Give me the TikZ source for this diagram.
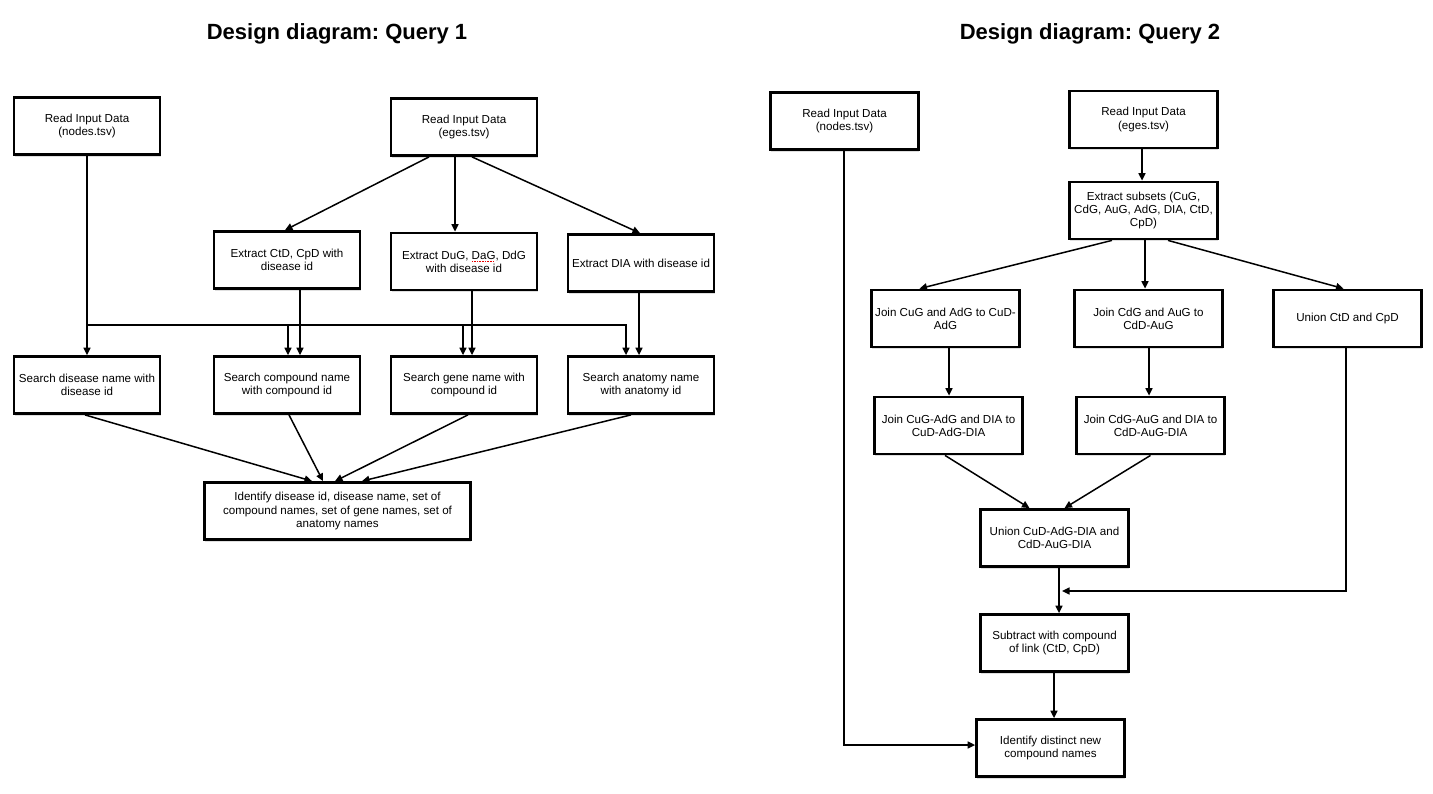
\documentclass[tikz,border=0pt]{standalone}
\usepackage{fontspec}
\setmainfont{Liberation Sans}
\usetikzlibrary{arrows.meta,shadows}
\newcommand\squig[1]{\setbox0\hbox{#1}\rlap{\color{red!90!black}\raisebox{-2.4pt}{\leaders\hbox to 1.6pt{\hss\rule{0.8pt}{0.8pt}\hss}\hskip\wd0}}#1}
\tikzset{
  box/.style={draw=black, line width=2.8pt, fill=white, minimum width=146pt, minimum height=57pt,
    align=center, inner sep=2pt, font=\fontsize{11.6}{13.2}\selectfont\frenchspacing,
    drop shadow={shadow xshift=0.8pt, shadow yshift=-2pt, opacity=0.25}},
  arr/.style={line width=1.5pt, -{Triangle[length=7.5pt,width=7pt]}},
  ln/.style={line width=1.5pt},
  title/.style={font=\fontsize{22}{26}\selectfont\bfseries\frenchspacing}
}
\begin{document}
\begin{tikzpicture}[x=1pt,y=-1pt]
\useasboundingbox[fill=white] (0,0) rectangle (1433,793);
% titles
\node[title] (t1) at (337,34) {Design diagram: Query 1};
\node[title] (t2) at (1090,34) {Design diagram: Query 2};
% ---------------- Query 1
\node[box] (A1) at (87,126) {Read Input Data\\(nodes.tsv)};
\node[box] (A2) at (464,127) {Read Input Data\\(eges.tsv)};
\node[box] (B1) at (287,260) {Extract CtD, CpD with\\disease id};
\node[box] (B2) at (464,261.5) {Extract DuG, \squig{DaG}, DdG\\with disease id};
\node[box] (B3) at (641,263) {Extract DIA with disease id};
\node[box] (C1) at (87,385) {Search disease name with\\disease id};
\node[box] (C2) at (287,385) {Search compound name\\with compound id};
\node[box] (C3) at (464,385) {Search gene name with\\compound id};
\node[box] (C4) at (641,385) {Search anatomy name\\with anatomy id};
\node[box, minimum width=266pt] (D) at (337.5,511) {Identify disease id, disease name, set of\\compound names, set of gene names, set of\\anatomy names};

\draw[arr] ([xshift=-35]A2.south) -- ([xshift=-2]B1.north);
\draw[arr] ([xshift=-9]A2.south) -- ([xshift=-9]B2.north);
\draw[arr] ([xshift=8]A2.south) -- ([xshift=-1]B3.north);

\coordinate (bus) at (87,325);
\draw[arr] (A1.south) -- (C1.north);
\draw[ln] (bus) -- (626,325);
\draw[arr] (bus) -| ([xshift=1]C2.north);
\draw[arr] (bus) -| ([xshift=-1]C3.north);
\draw[arr] (bus) -| ([xshift=-15]C4.north);

\draw[arr] ([xshift=13]B1.south) -- ([xshift=13]C2.north);
\draw[arr] ([xshift=8]B2.south) -- ([xshift=8]C3.north);
\draw[arr] ([xshift=-2]B3.south) -- ([xshift=-2]C4.north);

\draw[arr] ([xshift=-2]C1.south) -- ([xshift=-25.5]D.north);
\draw[arr] ([xshift=2]C2.south) -- ([xshift=-14.5]D.north);
\draw[arr] ([xshift=4]C3.south) -- ([xshift=-2.5]D.north);
\draw[arr] ([xshift=-10]C4.south) -- ([xshift=24.5]D.north);

% ---------------- Query 2
\node[box, minimum width=148pt] (E1) at (844.5,121) {Read Input Data\\(nodes.tsv)};
\node[box, minimum width=148pt] (E2) at (1143.5,119.5) {Read Input Data\\(eges.tsv)};
\node[box, minimum width=148pt] (F) at (1143.5,210.5) {Extract subsets (CuG,\\CdG, AuG, AdG, DIA, CtD,\\CpD)};
\node[box, minimum width=148pt] (G1) at (945.5,318.5) {Join CuG and AdG to CuD-\\AdG};
\node[box, minimum width=148pt] (G2) at (1148.5,318.5) {Join CdG and AuG to\\CdD-AuG};
\node[box, minimum width=148pt] (G3) at (1347.5,318.5) {Union CtD and CpD};
\node[box, minimum width=148pt] (H1) at (948.5,425.5) {Join CuG-AdG and DIA to\\CuD-AdG-DIA};
\node[box, minimum width=148pt] (H2) at (1150.5,425.5) {Join CdG-AuG and DIA to\\CdD-AuG-DIA};
\node[box, minimum width=148pt] (I) at (1054.5,538) {Union CuD-AdG-DIA and\\CdD-AuG-DIA};
\node[box, minimum width=148pt] (J) at (1054.5,643) {Subtract with compound\\of link (CtD, CpD)};
\node[box, minimum width=148pt] (K) at (1050.5,748) {Identify distinct new\\compound names};

\draw[arr] ([xshift=-1.5]E2.south) -- ([xshift=-1.5]F.north);
\draw[arr] ([xshift=-31.5]F.south) -- ([xshift=-26]G1.north);
\draw[arr] ([xshift=1.5]F.south) -- ([xshift=-3.5]G2.north);
\draw[arr] ([xshift=24.5]F.south) -- ([xshift=-4]G3.north);
\draw[arr] ([xshift=3.5]G1.south) -- ([xshift=0.5]H1.north);
\draw[arr] ([xshift=0.5]G2.south) -- ([xshift=-1.5]H2.north);
\draw[arr] ([xshift=-3.5]H1.south) -- ([xshift=-25]I.north);
\draw[arr] (H2.south) -- ([xshift=10]I.north);
\draw[arr] ([xshift=4.5]I.south) -- ([xshift=4.5]J.north);
\coordinate (m) at (1062,591);
\draw[arr] ([xshift=-1.5]G3.south) |- (m);
\draw[arr] ([xshift=-0.5]J.south) -- ([xshift=3.5]K.north);
\draw[arr] ([xshift=-0.5]E1.south) |- ([yshift=3]K.west);
\end{tikzpicture}
\end{document}
